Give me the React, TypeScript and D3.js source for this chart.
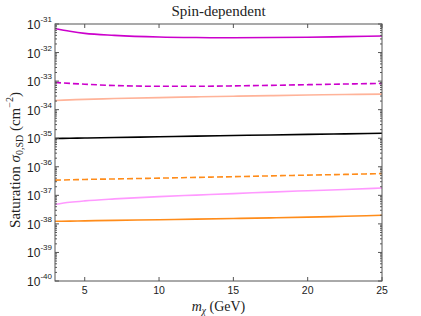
import React from "react";
import * as d3 from "d3";

const xs = [3, 4, 5, 7, 10, 12.5, 15, 17.5, 20, 22.5, 25];
const magentaSolid = [7.0e-32, 5.6e-32, 4.7e-32, 4.0e-32, 3.5e-32, 3.35e-32, 3.3e-32, 3.35e-32, 3.45e-32, 3.6e-32, 3.8e-32];
const magentaDashed = [9.0e-34, 8.3e-34, 7.8e-34, 7.0e-34, 6.6e-34, 6.6e-34, 6.8e-34, 7.1e-34, 7.5e-34, 7.9e-34, 8.3e-34];
const salmon = [2.1e-34, 2.2e-34, 2.3e-34, 2.45e-34, 2.65e-34, 2.8e-34, 2.95e-34, 3.1e-34, 3.25e-34, 3.4e-34, 3.5e-34];
const black = [9.8e-36, 1.0e-35, 1.02e-35, 1.06e-35, 1.12e-35, 1.18e-35, 1.25e-35, 1.3e-35, 1.36e-35, 1.42e-35, 1.5e-35];
const orangeDashed = [3.4e-37, 3.5e-37, 3.6e-37, 3.75e-37, 4.0e-37, 4.25e-37, 4.5e-37, 4.8e-37, 5.1e-37, 5.4e-37, 5.8e-37];
const pink = [4.8e-38, 5.7e-38, 6.4e-38, 7.5e-38, 9.0e-38, 1.02e-37, 1.15e-37, 1.3e-37, 1.45e-37, 1.6e-37, 1.8e-37];
const orangeSolid = [1.23e-38, 1.25e-38, 1.28e-38, 1.33e-38, 1.4e-38, 1.47e-38, 1.55e-38, 1.63e-38, 1.72e-38, 1.85e-38, 2.0e-38];

const xTicks = [5, 10, 15, 20, 25];
const yExps = [-31, -32, -33, -34, -35, -36, -37, -38, -39, -40];

const series = [
  { values: magentaSolid, color: "#cc00cc", dash: null },
  { values: magentaDashed, color: "#cc00cc", dash: "6,3" },
  { values: salmon, color: "#ffb399", dash: null },
  { values: black, color: "#000000", dash: null },
  { values: orangeDashed, color: "#ff8c1a", dash: "6,3" },
  { values: pink, color: "#ff99ff", dash: null },
  { values: orangeSolid, color: "#ff8c1a", dash: null },
];

const W = 421, H = 316;
const L = 55, R = 382, T = 24, B = 281;

export default function App() {
  const x = d3.scaleLinear().domain([3, 25]).range([L, R]);
  const y = d3.scaleLog().domain([1e-40, 1e-31]).range([B, T]);
  const line = d3.line<number>().x((_, i) => x(xs[i])).y((v) => y(v)).curve(d3.curveMonotoneX);

  const minor: number[] = [];
  for (let e = -40; e < -31; e++) {
    for (let m = 2; m <= 9; m++) minor.push(m * Math.pow(10, e));
  }
  const axisColor = "#555";
  const sans = "'Liberation Sans', Arial, sans-serif";
  const serif = "'Liberation Serif', 'Times New Roman', serif";

  return (
    <svg width={W} height={H} style={{ position: "absolute", left: 0, top: 0 }}>
      <rect width={W} height={H} fill="#fff" />
      {series.map((s, i) => (
        <path key={i} d={line(s.values) || ""} fill="none" stroke={s.color} strokeWidth={1.6} strokeDasharray={s.dash || undefined} />
      ))}
      <rect x={L} y={T} width={R - L} height={B - T} fill="none" stroke={axisColor} strokeWidth={1} />
      {xTicks.map((t) => (
        <g key={t}>
          <line x1={x(t)} x2={x(t)} y1={B} y2={B - 4} stroke={axisColor} />
          <line x1={x(t)} x2={x(t)} y1={T} y2={T + 4} stroke={axisColor} />
          <text x={x(t)} y={294} textAnchor="middle" fontFamily={sans} fontSize={10.5} fill="#222">{t}</text>
        </g>
      ))}
      {minor.map((v, i) => (
        <g key={i}>
          <line x1={L} x2={L + 2} y1={y(v)} y2={y(v)} stroke={axisColor} />
          <line x1={R} x2={R - 2} y1={y(v)} y2={y(v)} stroke={axisColor} />
        </g>
      ))}
      {yExps.map((e) => {
        const yy = y(Math.pow(10, e));
        return (
          <g key={e}>
            <line x1={L} x2={L + 4} y1={yy} y2={yy} stroke={axisColor} />
            <line x1={R} x2={R - 4} y1={yy} y2={yy} stroke={axisColor} />
            <text x={L - 3} y={yy + 5} textAnchor="end" fontFamily={sans} fontSize={12} fill="#222">
              10<tspan fontSize={8} dy={-7}>{e}</tspan>
            </text>
          </g>
        );
      })}
      <text x={(L + R) / 2} y={16} textAnchor="middle" fontFamily={serif} fontSize={15} fill="#222">Spin-dependent</text>
      <text x={(L + R) / 2} y={311} textAnchor="middle" fontFamily={serif} fontSize={14} fill="#222">
        <tspan fontStyle="italic">m</tspan><tspan fontSize={9.5} dy={3} fontStyle="italic">χ</tspan><tspan dy={-3}> (GeV)</tspan>
      </text>
      <text transform={`translate(20, 160) rotate(-90)`} textAnchor="middle" fontFamily={serif} fontSize={15} fill="#222">
        Saturation <tspan fontStyle="italic">σ</tspan><tspan fontSize={10} dy={3}>0,SD</tspan><tspan dy={-3}> (cm</tspan><tspan fontSize={10} dy={-7}>−2</tspan><tspan dy={7}>)</tspan>
      </text>
    </svg>
  );
}
